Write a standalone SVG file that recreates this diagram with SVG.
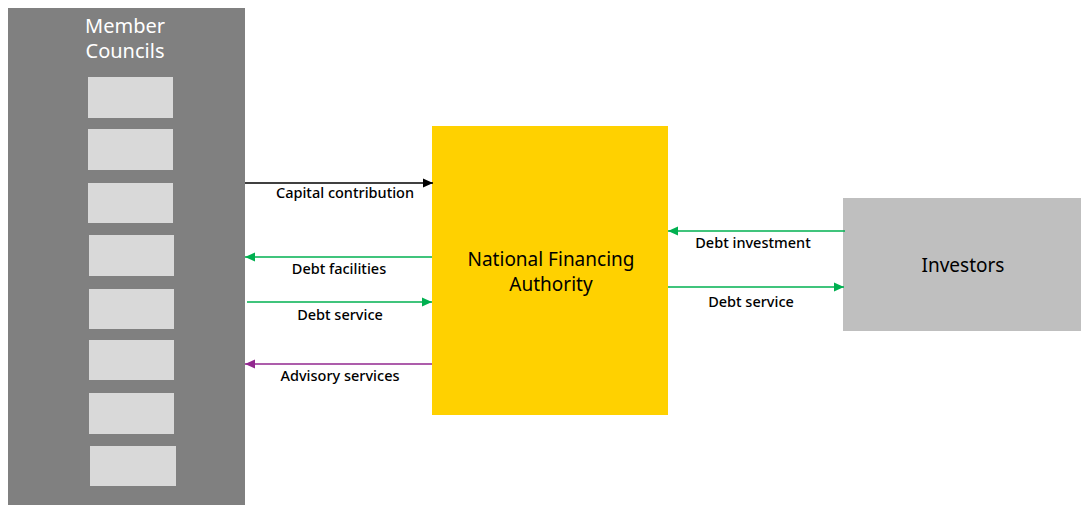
<svg xmlns="http://www.w3.org/2000/svg" width="1092" height="512" viewBox="0 0 1092 512">
<style>
.big{font-family:"Noto Sans","Liberation Sans",sans-serif;font-size:19px;text-anchor:middle}
.lbl{font-family:"Noto Sans","Liberation Sans",sans-serif;font-size:14.5px;font-weight:500;text-anchor:middle;fill:#000}
.cell{fill:#D9D9D9}
.ln{fill:none;stroke-width:1.5}
</style>
<defs>
<marker id="aBlack" viewBox="0 0 10 10" refX="10" refY="5" markerWidth="10" markerHeight="10" markerUnits="userSpaceOnUse" orient="auto"><path d="M0,0.5 L10,5 L0,9.5 Z" fill="#000"/></marker>
<marker id="aGreen" viewBox="0 0 10 10" refX="10" refY="5" markerWidth="10" markerHeight="10" markerUnits="userSpaceOnUse" orient="auto"><path d="M0,0.5 L10,5 L0,9.5 Z" fill="#00B050"/></marker>
<marker id="aPurple" viewBox="0 0 10 10" refX="10" refY="5" markerWidth="10" markerHeight="10" markerUnits="userSpaceOnUse" orient="auto"><path d="M0,0.5 L10,5 L0,9.5 Z" fill="#92278F"/></marker>
</defs>
<rect width="1092" height="512" fill="#fff"/>
<g id="member-councils">
<rect x="8" y="8" width="237" height="497" fill="#808080"/>
<text class="big" x="125" y="33" fill="#fff" style="font-size:20px">Member</text>
<text class="big" x="125" y="58" fill="#fff" style="font-size:20px">Councils</text>
<rect class="cell" x="88" y="77" width="85" height="41"/>
<rect class="cell" x="88" y="129" width="85" height="41"/>
<rect class="cell" x="88" y="183" width="85" height="40"/>
<rect class="cell" x="89" y="235" width="85" height="41"/>
<rect class="cell" x="89" y="289" width="85" height="40"/>
<rect class="cell" x="89" y="340" width="85" height="40"/>
<rect class="cell" x="89" y="393" width="85" height="41"/>
<rect class="cell" x="90" y="446" width="86" height="40"/>
</g>
<g id="nfa">
<rect x="432" y="126" width="236" height="289" fill="#FFD100"/>
<text class="big" x="551" y="266" fill="#000">National Financing</text>
<text class="big" x="551" y="291" fill="#000">Authority</text>
</g>
<g id="investors">
<rect x="843" y="198" width="238" height="133" fill="#BFBFBF"/>
<text class="big" x="963" y="272" fill="#000">Investors</text>
</g>
<g id="connectors">
<line class="ln" x1="245" y1="183" x2="433" y2="183" stroke="#000" marker-end="url(#aBlack)"/>
<line class="ln" x1="432" y1="257" x2="245" y2="257" stroke="#00B050" marker-end="url(#aGreen)"/>
<line class="ln" x1="247" y1="302" x2="432" y2="302" stroke="#00B050" marker-end="url(#aGreen)"/>
<line class="ln" x1="432" y1="364" x2="245" y2="364" stroke="#92278F" marker-end="url(#aPurple)"/>
<line class="ln" x1="845" y1="231" x2="668" y2="231" stroke="#00B050" marker-end="url(#aGreen)"/>
<line class="ln" x1="668" y1="287" x2="844" y2="287" stroke="#00B050" marker-end="url(#aGreen)"/>
<text class="lbl" x="345" y="198">Capital contribution</text>
<text class="lbl" x="339" y="274">Debt facilities</text>
<text class="lbl" x="340" y="320">Debt service</text>
<text class="lbl" x="340" y="381">Advisory services</text>
<text class="lbl" x="753" y="248">Debt investment</text>
<text class="lbl" x="751" y="307">Debt service</text>
</g>
</svg>
